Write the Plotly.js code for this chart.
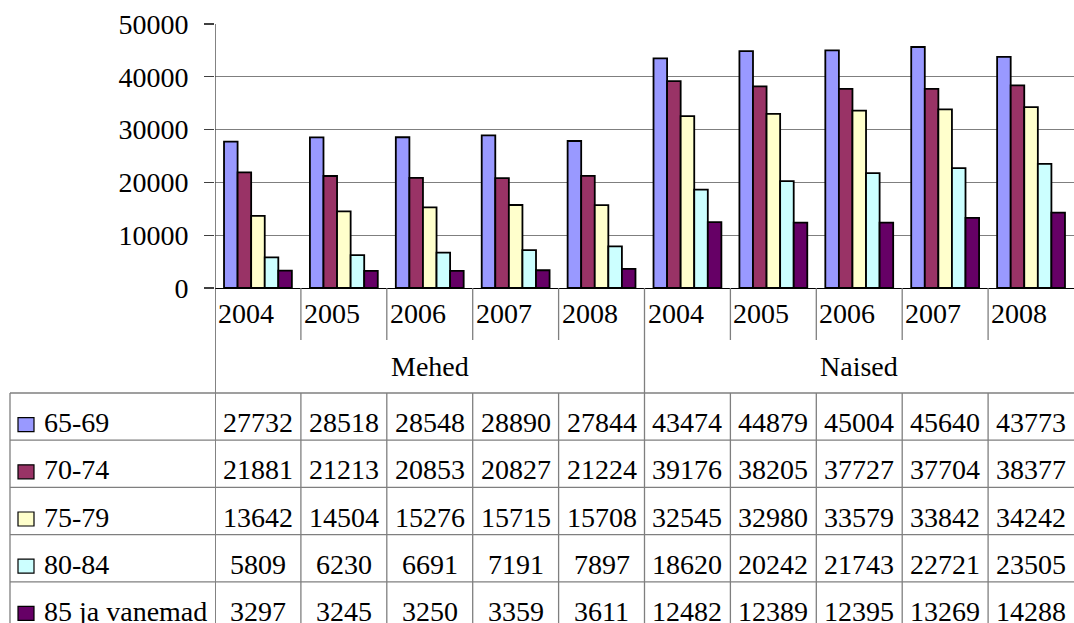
<!DOCTYPE html>
<html>
<head>
<meta charset="utf-8">
<script src="https://cdn.plot.ly/plotly-3.0.1.min.js"></script>
<style>
  html, body { margin: 0; padding: 0; background: #fff; }
  #chart { width: 1074px; height: 623px; }
</style>
</head>
<body>
<div id="chart"></div>
<script>
// Population aged 65+ by age group, sex and year
const groups = ['Mehed', 'Naised'];
const years = ['2004', '2005', '2006', '2007', '2008'];
const ageGroups = ['65-69', '70-74', '75-79', '80-84', '85 ja vanemad'];
const ageColors = ['#9999FF', '#993366', '#FFFFCC', '#CCFFFF', '#660066'];

// columns: Mehed 2004..2008, then Naised 2004..2008
const v65_69 = [27732, 28518, 28548, 28890, 27844, 43474, 44879, 45004, 45640, 43773];
const v70_74 = [21881, 21213, 20853, 20827, 21224, 39176, 38205, 37727, 37704, 38377];
const v75_79 = [13642, 14504, 15276, 15715, 15708, 32545, 32980, 33579, 33842, 34242];
const v80_84 = [5809, 6230, 6691, 7191, 7897, 18620, 20242, 21743, 22721, 23505];
const v85plus = [3297, 3245, 3250, 3359, 3611, 12482, 12389, 12395, 13269, 14288];

const seriesValues = [v65_69, v70_74, v75_79, v80_84, v85plus];

// ---- page geometry (pixels) ----
const W = 1074, H = 623;
const M = { l: 215, r: 0, t: 24, b: 335 };
const plotW = W - M.l - M.r, plotH = H - M.t - M.b;
const baseY = M.t + plotH;               // pixel row of the value axis zero
const px = x => (x - M.l) / plotW;       // pixel x -> paper x
const py = y => (baseY - y) / plotH;     // pixel y -> paper y

const yearRowBottom = 340;
const tableTop = 393;
const rowH = 47.2;
const tableLeft = 10;
const tableBottom = H + 10;
const FONT = 'serif';
const LINE = '#7f7f7f';

const nCols = groups.length * years.length;
const colIdx = Array.from({ length: nCols }, (_, i) => i);

const traces = ageGroups.map((name, s) => ({
  type: 'bar',
  name: name,
  x: colIdx,
  y: seriesValues[s],
  marker: { color: ageColors[s], line: { color: '#000', width: 1.8 } },
  hoverinfo: 'skip'
}));

const shapes = [];
const annotations = [];
const line = (xref, x0, x1, y0, y1, color) => shapes.push({
  type: 'line', xref: xref, yref: 'paper', x0: x0, x1: x1, y0: py(y0), y1: py(y1),
  line: { color: color || LINE, width: 1.3 }
});

// left frame of the chart / table header column
line('x', -0.5, -0.5, M.t, tableBottom, '#404040');
// boundary between the two groups
line('x', years.length - 0.5, years.length - 0.5, baseY, tableBottom);
// dividers between years (under the axis and through the table)
colIdx.forEach(i => {
  if (i === 0 || i === years.length) return;
  line('x', i - 0.5, i - 0.5, baseY, yearRowBottom);
  line('x', i - 0.5, i - 0.5, tableTop, tableBottom);
});
// table left border and horizontal rules
line('paper', px(tableLeft), px(tableLeft), tableTop, tableBottom);
for (let r = 0; r < ageGroups.length; r++) {
  line('paper', px(tableLeft), 1, tableTop + r * rowH, tableTop + r * rowH);
}

const txt = (o) => annotations.push(Object.assign({
  showarrow: false, yref: 'paper', font: { family: FONT, size: 28, color: '#000' }
}, o));

// year labels
colIdx.forEach(i => {
  txt({ xref: 'x', x: i - 0.5, xanchor: 'left', xshift: 1, y: py(313), yanchor: 'middle',
        text: years[i % years.length] });
});
// group labels
groups.forEach((g, k) => {
  txt({ xref: 'x', x: k * years.length + (years.length - 1) / 2, xanchor: 'center',
        y: py(366), yanchor: 'middle', text: g });
});
// table rows: legend key, label and values
ageGroups.forEach((name, s) => {
  const top = tableTop + s * rowH;
  const mid = top + rowH / 2;
  shapes.push({
    type: 'rect', xref: 'paper', yref: 'paper',
    x0: px(18), x1: px(34), y0: py(mid + 15), y1: py(mid + 1),
    fillcolor: ageColors[s], line: { color: '#000', width: 1.2 }
  });
  txt({ xref: 'paper', x: px(42), xanchor: 'left', y: py(mid + 6), yanchor: 'middle', text: name });
  seriesValues[s].forEach((v, i) => {
    txt({ xref: 'x', x: i, xanchor: 'center', y: py(mid + 6), yanchor: 'middle', text: String(v) });
  });
});

const layout = {
  width: W, height: H,
  margin: M,
  paper_bgcolor: '#fff', plot_bgcolor: '#fff',
  showlegend: false,
  barmode: 'group',
  bargap: 0.21,
  bargroupgap: 0,
  font: { family: FONT, size: 28, color: '#000' },
  xaxis: {
    range: [-0.5, nCols - 0.5], showticklabels: false, showgrid: false,
    zeroline: false, showline: true, linecolor: '#000', linewidth: 1.3, ticks: '', fixedrange: true
  },
  yaxis: {
    range: [0, 50000], dtick: 10000, tick0: 0, tickformat: 'd',
    showgrid: true, gridcolor: LINE, gridwidth: 1.3,
    zeroline: false, showline: false,
    ticks: 'outside', ticklen: 10, tickcolor: '#404040', tickwidth: 1.3,
    ticklabelstandoff: 10,
    tickfont: { family: FONT, size: 28, color: '#000' }, fixedrange: true
  },
  shapes: shapes,
  annotations: annotations
};

Plotly.newPlot('chart', traces, layout, { staticPlot: true, displayModeBar: false });
</script>
</body>
</html>
